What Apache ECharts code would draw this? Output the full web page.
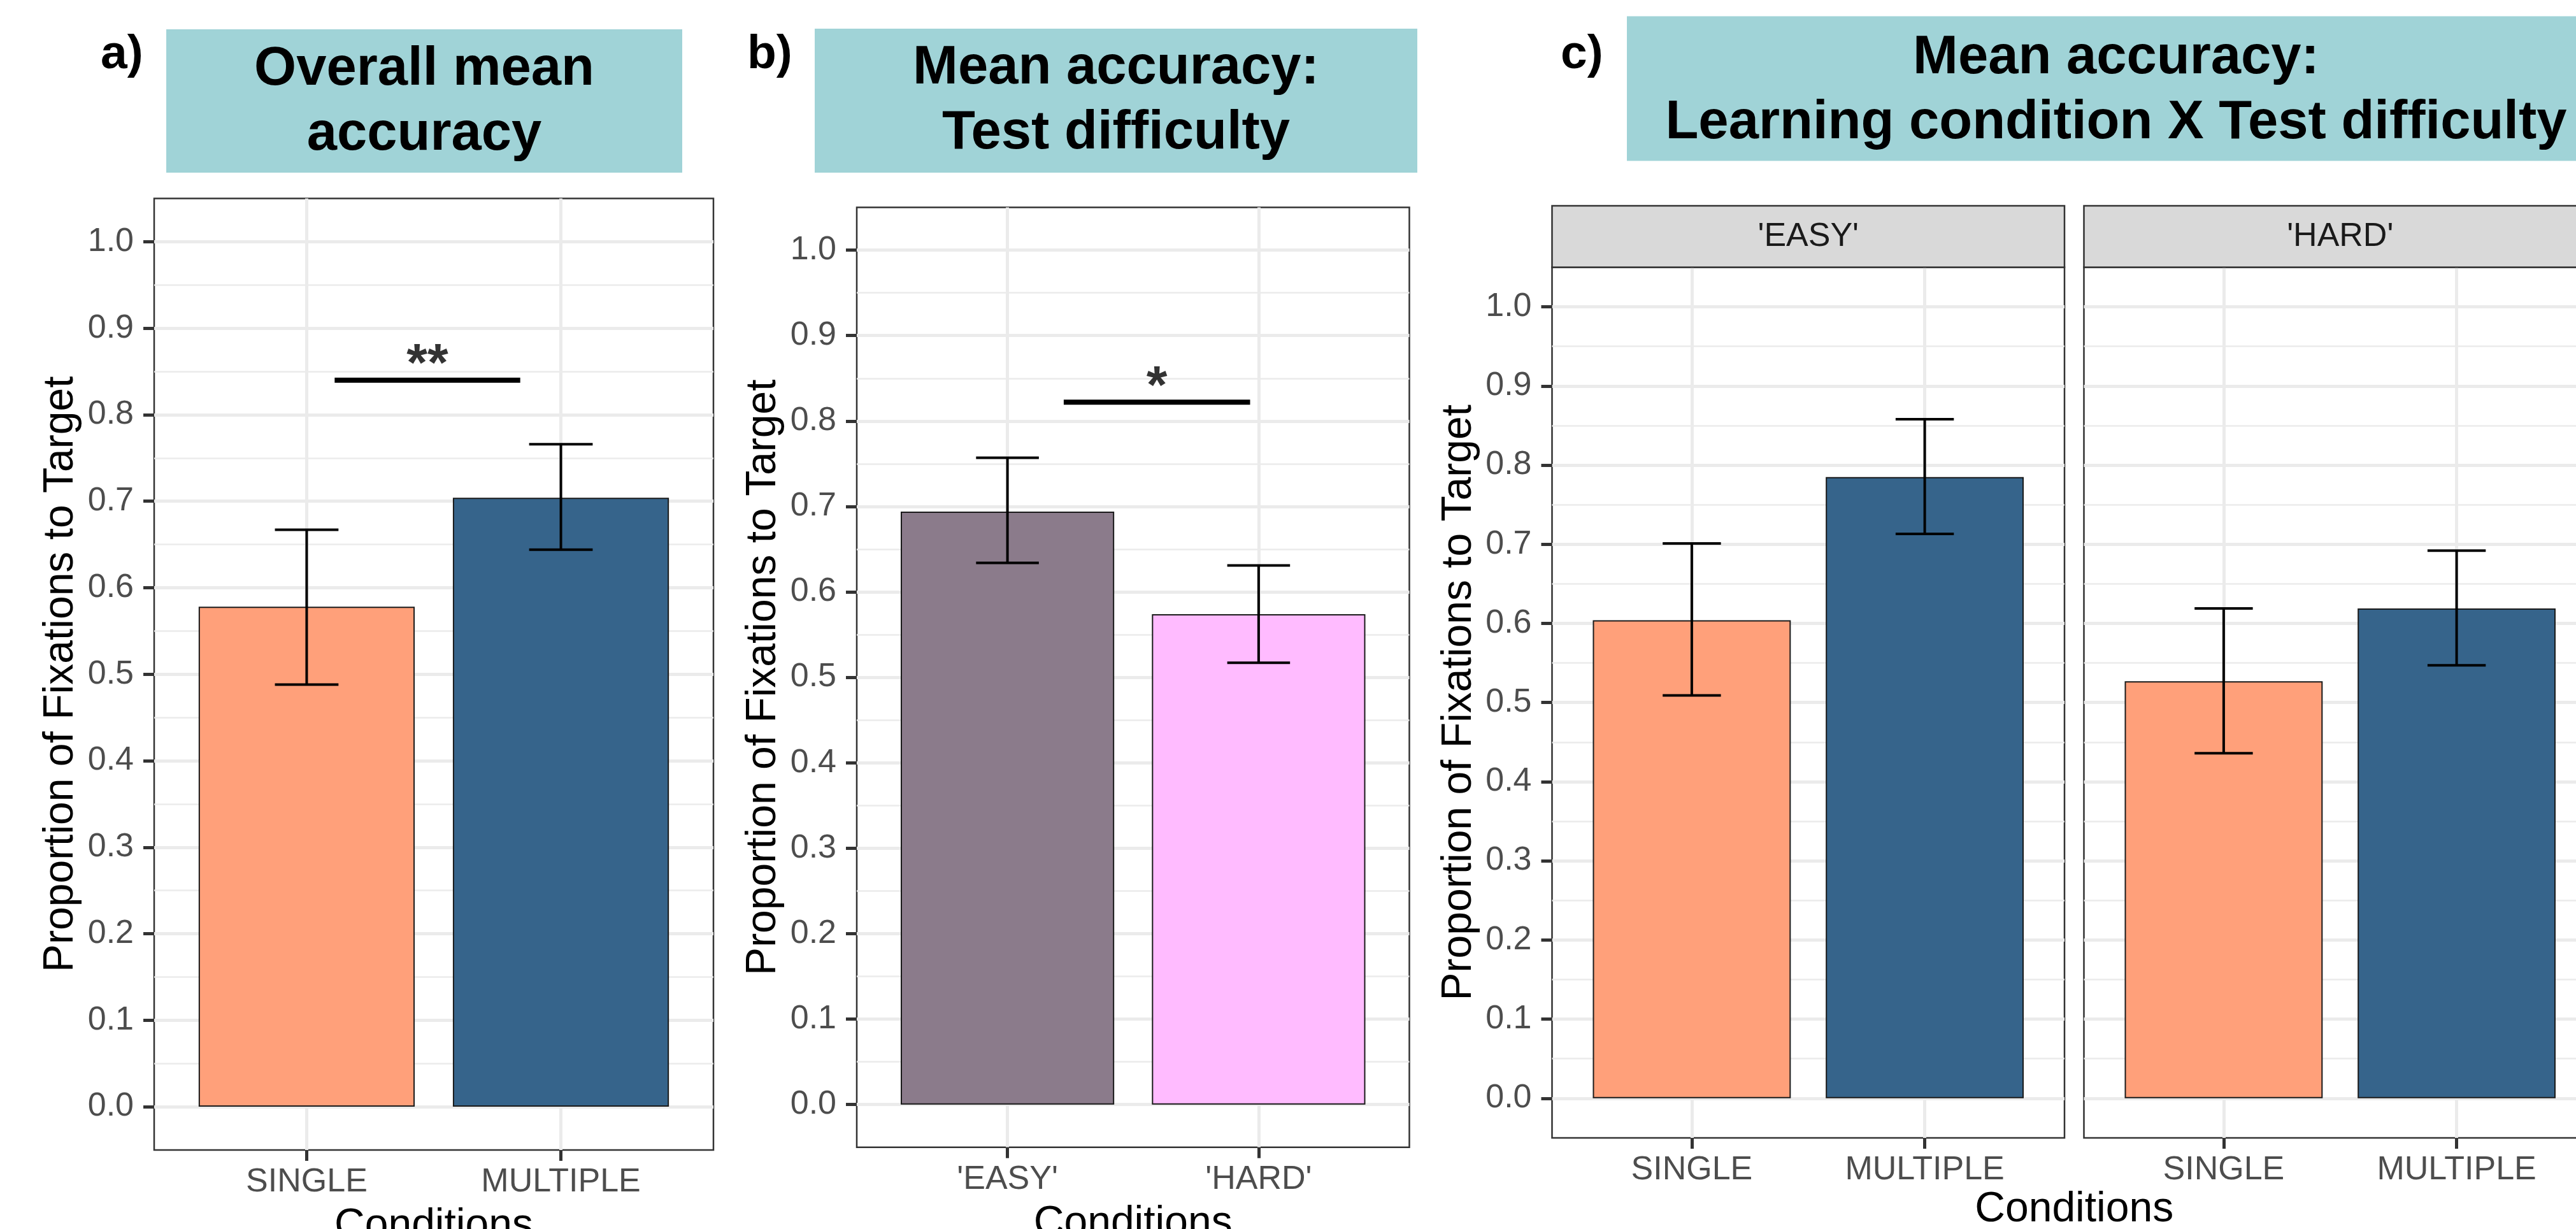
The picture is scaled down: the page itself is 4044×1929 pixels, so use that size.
<!DOCTYPE html>
<html><head><meta charset="utf-8">
<script src="https://cdn.jsdelivr.net/npm/echarts@6/dist/echarts.min.js"></script>
<style>html,body{margin:0;padding:0;background:#fff}#chart{width:4044px;height:1929px}</style>
</head><body><div id="chart"></div>
<script>
// ---------------- data ----------------
const learningCats = ['SINGLE', 'MULTIPLE'];
const difficultyCats = ["'EASY'", "'HARD'"];
const learningColors = ['#FFA07A', '#36648B'];
const difficultyColors = ['#8B7B8B', '#FFBBFF'];

const overallMean = [0.578, 0.704];
const overallLow  = [0.488, 0.644];
const overallHigh = [0.667, 0.766];

const difficultyMean = [0.694, 0.574];
const difficultyLow  = [0.634, 0.517];
const difficultyHigh = [0.757, 0.631];

const easyMean = [0.604, 0.785];
const easyLow  = [0.509, 0.713];
const easyHigh = [0.701, 0.858];

const hardMean = [0.527, 0.619];
const hardLow  = [0.436, 0.547];
const hardHigh = [0.619, 0.692];

const yTickValues = [0.0, 0.1, 0.2, 0.3, 0.4, 0.5, 0.6, 0.7, 0.8, 0.9, 1.0];

// significance bracket: [x start, x end, y], label
const sigA = [1.11, 1.84, 0.84];   const sigALabel = '**';
const sigB = [1.224, 1.966, 0.822]; const sigBLabel = '*';

const panelTitles = ['Overall mean\naccuracy', 'Mean accuracy:\nTest difficulty', 'Mean accuracy:\nLearning condition X Test difficulty'];
const panelLetters = ['a)', 'b)', 'c)'];
const xAxisTitle = 'Conditions';
const yAxisTitle = 'Proportion of Fixations to Target';

// ---------------- layout ----------------
const FONT = '"Liberation Sans", Arial, sans-serif';
const GRID_C = '#EBEBEB';
// minor gridlines halfway between major ticks (ggplot style)
const yMinorValues = yTickValues.slice(1).map((v, k) => +((v + yTickValues[k]) / 2).toFixed(3));

const panels = [
  {left: 242,    top: 311.6, width: 878,   height: 1493.3, cats: learningCats,   colors: learningColors,   mean: overallMean,    low: overallLow,    high: overallHigh,    yAxis: true,  xName: true, sig: sigA, sigLabel: sigALabel},
  {left: 1345,   top: 325.6, width: 867.5, height: 1475.1, cats: difficultyCats, colors: difficultyColors, mean: difficultyMean, low: difficultyLow, high: difficultyHigh, yAxis: true,  xName: true, sig: sigB, sigLabel: sigBLabel},
  {left: 2436.5, top: 419.5, width: 804.5, height: 1366.4, cats: learningCats,   colors: learningColors,   mean: easyMean,       low: easyLow,       high: easyHigh,       yAxis: true,  xName: false, strip: difficultyCats[0]},
  {left: 3271.5, top: 419.5, width: 804.5, height: 1366.4, cats: learningCats,   colors: learningColors,   mean: hardMean,       low: hardLow,       high: hardHigh,       yAxis: false, xName: false, strip: difficultyCats[1]}
];

const grid = [], xAxis = [], yAxis = [], series = [];
panels.forEach((p, i) => {
  grid.push({left: p.left, top: p.top, width: p.width, height: p.height, show: true,
    borderColor: '#333333', borderWidth: 2.5, backgroundColor: '#fff', containLabel: false, outerBoundsMode: 'none'});
  const catPos = p.cats.map((c, k) => k + 1);
  xAxis.push({
    gridIndex: i, type: 'value', min: 0.4, max: 2.6, interval: 0.2,
    axisLine: {show: false, onZero: false},
    axisTick: {show: true, customValues: catPos, length: 17, lineStyle: {color: '#333333', width: 5}},
    axisLabel: {show: true, customValues: catPos, formatter: v => p.cats[Math.round(v) - 1], margin: 25,
      fontSize: 52, color: '#4D4D4D', fontFamily: FONT},
    splitLine: {show: true, lineStyle: {color: GRID_C, width: 5}},
    name: p.xName ? xAxisTitle : '', nameLocation: 'middle', nameGap: 87, nameMoveOverlap: false,
    nameTextStyle: {fontSize: 66, color: '#000', fontFamily: FONT}
  });
  yAxis.push({
    gridIndex: i, type: 'value', min: -0.05, max: 1.05, interval: 0.05,
    axisLine: {show: false, onZero: false},
    axisTick: {show: p.yAxis, customValues: yTickValues, length: 17, lineStyle: {color: '#333333', width: 5}},
    axisLabel: {show: p.yAxis, customValues: yTickValues, formatter: v => v.toFixed(1), margin: 32,
      fontSize: 52, color: '#4D4D4D', fontFamily: FONT},
    splitLine: {show: true, lineStyle: {color: GRID_C, width: 5}},
    name: p.yAxis ? yAxisTitle : '', nameLocation: 'middle', nameGap: 113, nameRotate: 90, nameMoveOverlap: false,
    nameTextStyle: {fontSize: 66, color: '#000', fontFamily: FONT}
  });
  yAxis.push({
    gridIndex: i, type: 'value', min: -0.05, max: 1.05, interval: 0.05, position: 'left',
    axisLine: {show: false, onZero: false}, axisTick: {show: false, customValues: yMinorValues}, axisLabel: {show: false},
    splitLine: {show: true, lineStyle: {color: GRID_C, width: 2.5}}
  });

  series.push({
    type: 'bar', xAxisIndex: i, yAxisIndex: 2 * i, barWidth: '85%', z: 3,
    itemStyle: {borderColor: '#1A1A1A', borderWidth: 2},
    data: p.cats.map((c, k) => ({value: [k + 1, p.mean[k]], itemStyle: {color: p.colors[k]}})),
    silent: true, animation: false
  });
  series.push({
    type: 'custom', xAxisIndex: i, yAxisIndex: 2 * i, z: 4, animation: false, silent: true,
    encode: {x: 0, y: [1, 2]},
    data: p.cats.map((c, k) => [k + 1, p.low[k], p.high[k]]),
    renderItem: (params, api) => {
      const x = api.value(0);
      const top = api.coord([x, api.value(2)]);
      const bot = api.coord([x, api.value(1)]);
      const hw = api.size([0.125, 0])[0];
      const st = {stroke: '#000', lineWidth: 4, fill: null};
      return {type: 'group', children: [
        {type: 'line', shape: {x1: top[0], y1: top[1], x2: bot[0], y2: bot[1]}, style: st},
        {type: 'line', shape: {x1: top[0] - hw, y1: top[1], x2: top[0] + hw, y2: top[1]}, style: st},
        {type: 'line', shape: {x1: bot[0] - hw, y1: bot[1], x2: bot[0] + hw, y2: bot[1]}, style: st}
      ]};
    }
  });
  if (p.sig) {
    // significance bar
    series.push({
      type: 'line', xAxisIndex: i, yAxisIndex: 2 * i, z: 5, animation: false, silent: true,
      symbol: 'none', lineStyle: {color: '#000', width: 8, cap: 'butt'},
      data: [[p.sig[0], p.sig[2]], [p.sig[1], p.sig[2]]]
    });
    // significance stars, centred over the bar
    series.push({
      type: 'scatter', xAxisIndex: i, yAxisIndex: 2 * i, z: 6, animation: false, silent: true,
      symbolSize: 1, itemStyle: {color: 'rgba(0,0,0,0)'},
      label: {show: true, position: 'inside', formatter: () => p.sigLabel,
        fontSize: 84, fontWeight: 'bold', fontFamily: FONT, color: '#000'},
      labelLayout: {hideOverlap: false, dy: -22},
      data: [[(p.sig[0] + p.sig[1]) / 2, p.sig[2]]]
    });
  }
});

// spanning (invisible) grid for the shared x title of the faceted panel c
grid.push({left: 2436.5, top: 419.5, width: 1639.5, height: 1366.4, show: false, containLabel: false, outerBoundsMode: 'none'});
xAxis.push({gridIndex: 4, type: 'value', min: 0, max: 1, axisLine: {show: false, onZero: false}, axisTick: {show: false},
  axisLabel: {show: false}, splitLine: {show: false}, name: xAxisTitle, nameLocation: 'middle', nameGap: 80, nameMoveOverlap: false,
  nameTextStyle: {fontSize: 66, color: '#000', fontFamily: FONT}});
yAxis.push({gridIndex: 4, type: 'value', min: 0, max: 1, show: false});

// ---------------- decorations: title boxes, panel letters, facet strips ----------------
const titleBoxes = [
  {x: 261, y: 46, w: 810, h: 225, cx: 666, cy: 161},
  {x: 1279, y: 45, w: 946, h: 226, cx: 1752, cy: 159},
  {x: 2554, y: 25.5, w: 1536, h: 227, cx: 3322, cy: 142.5}
];
const letterPos = [[158, 86], [1173, 86], [2450, 86]];
const graphic = [];
titleBoxes.forEach((b, i) => {
  graphic.push({type: 'rect', shape: {x: b.x, y: b.y, width: b.w, height: b.h}, style: {fill: '#A0D3D7'}, z: 1});
  graphic.push({type: 'text', z: 2, style: {text: panelTitles[i], x: b.cx, y: b.cy, align: 'center', verticalAlign: 'middle',
    fontSize: 85, fontWeight: 'bold', fontFamily: FONT, lineHeight: 102, fill: '#000'}});
  graphic.push({type: 'text', z: 2, style: {text: panelLetters[i], x: letterPos[i][0], y: letterPos[i][1], align: 'left', verticalAlign: 'middle',
    fontSize: 75, fontWeight: 'bold', fontFamily: FONT, fill: '#000'}});
});
panels.forEach(p => {
  if (!p.strip) return;
  graphic.push({type: 'rect', z: 1, shape: {x: p.left, y: 323, width: p.width, height: p.top - 323},
    style: {fill: '#D9D9D9', stroke: '#333333', lineWidth: 2.5}});
  graphic.push({type: 'text', z: 2, style: {text: p.strip, x: p.left + p.width / 2, y: (323 + p.top) / 2, align: 'center', verticalAlign: 'middle',
    fontSize: 52, fontFamily: FONT, fill: '#1A1A1A'}});
});

const chart = echarts.init(document.getElementById('chart'), null, {renderer: 'canvas'});
chart.setOption({
  backgroundColor: '#ffffff',
  animation: false,
  grid, xAxis, yAxis, series, graphic
});
</script></body></html>
